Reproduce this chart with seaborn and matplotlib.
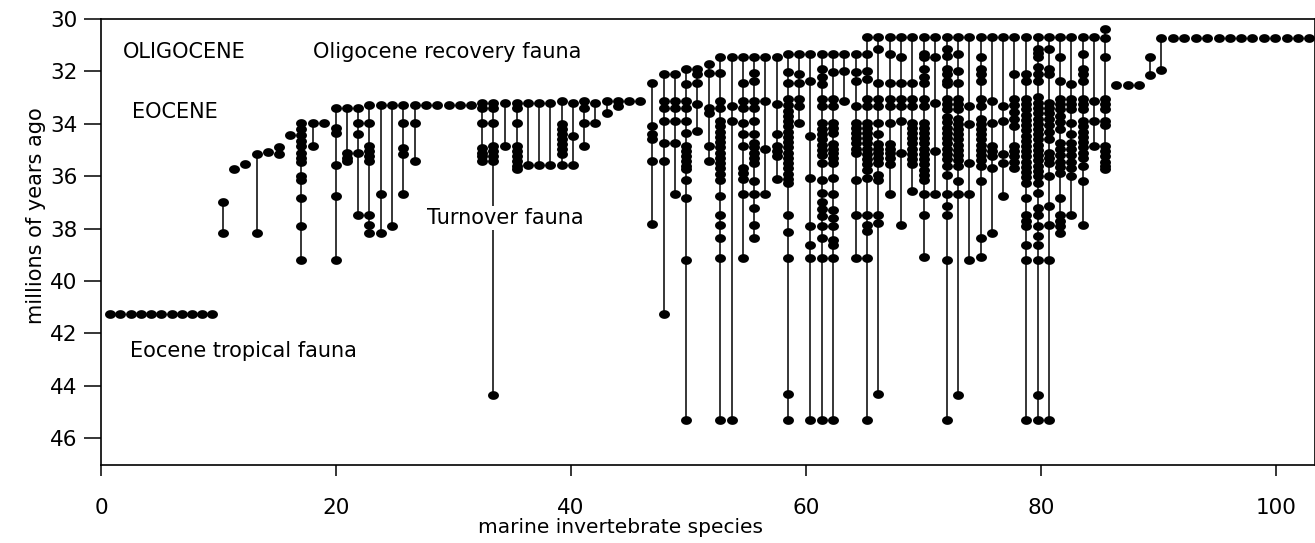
import numpy as np
import pandas as pd
import matplotlib
matplotlib.use("Agg")
import matplotlib.pyplot as plt
from matplotlib.markers import MarkerStyle
import seaborn as sns

# ---------------- data ----------------
tropical_x = [0.77, 1.64, 2.53, 3.38, 4.26, 5.13, 6.02, 6.87, 7.72, 8.60, 9.47]
tropical_ages = [[41.25]] * 11

turnover_x = [10.41, 11.32, 12.26, 13.30, 14.21, 15.15, 16.11, 17.05, 18.02, 19.00,
              19.97, 20.91, 21.90, 22.83, 23.80, 24.77, 25.73, 26.70, 27.66, 28.62,
              29.59, 30.55, 31.51, 32.45, 33.39, 34.36, 35.38, 36.31, 37.25, 38.19,
              39.19, 40.14, 41.11, 42.04, 43.04, 43.97, 44.94, 45.87, 46.92, 47.91,
              48.85, 49.79, 50.75, 51.72, 52.68, 53.68, 54.61, 55.57, 56.54, 57.49,
              58.44, 59.40, 60.34, 61.34, 62.32, 63.26, 64.23, 65.22, 66.15, 67.15,
              68.11, 69.05, 70.02, 70.98, 71.97, 72.94, 73.90, 74.87, 75.80, 76.79,
              77.73, 78.72, 79.69, 80.66, 81.62, 82.58, 83.55, 84.51, 85.45]
turnover_ages = [
    [37.0, 38.17],
    [35.72],
    [35.53],
    [35.15, 38.17],
    [35.06],
    [34.88, 35.15],
    [34.42],
    [33.96, 34.2, 34.44, 34.65, 34.85, 35.13, 35.3, 35.47, 36.0, 36.16, 36.83, 37.89, 39.2],
    [33.96, 34.85],
    [33.96],
    [33.4, 34.15, 34.37, 35.56, 36.74, 39.2],
    [33.38, 35.11, 35.3, 35.43],
    [33.38, 33.96, 34.41, 35.13, 37.47],
    [33.3, 33.96, 34.85, 35.05, 35.24, 35.43, 37.47, 37.85, 38.17],
    [33.3, 36.7, 38.17],
    [33.3, 37.92],
    [33.3, 33.96, 34.92, 35.17, 36.7],
    [33.3, 33.96, 35.43],
    [33.3],
    [33.3],
    [33.3],
    [33.3],
    [33.3],
    [33.19, 33.38, 33.96, 34.92, 35.1, 35.25, 35.43],
    [33.19, 33.38, 33.96, 34.85, 35.05, 35.24, 35.43, 44.35],
    [33.19, 34.85],
    [33.19, 33.38, 33.96, 34.85, 35.05, 35.24, 35.43, 35.6, 35.72],
    [33.19, 35.56],
    [33.19, 35.56],
    [33.19, 35.56],
    [33.13, 34.02, 34.21, 34.41, 34.6, 34.79, 34.98, 35.17, 35.56],
    [33.19, 34.47, 35.56],
    [33.13, 33.38, 33.96, 34.85],
    [33.19, 33.96],
    [33.13, 33.58],
    [33.13, 33.32],
    [33.13],
    [33.13],
    [32.43, 34.09, 34.41, 34.6, 35.43, 37.82],
    [32.11, 33.13, 33.38, 33.9, 34.72, 35.43, 41.28],
    [32.11, 33.13, 33.38, 33.9, 34.72, 36.7],
    [31.92, 32.49, 33.13, 33.38, 33.9, 34.34, 34.85, 35.05, 35.24, 35.43, 35.6, 35.72, 36.13, 36.83, 39.2, 45.33],
    [31.92, 32.11, 32.43, 33.26, 34.28],
    [31.72, 32.05, 33.4, 33.58, 34.85, 35.43],
    [31.44, 32.05, 33.13, 33.38, 33.9, 34.1, 34.3, 34.5, 34.7, 34.9, 35.1, 35.3, 35.5, 35.7, 35.9, 36.13, 36.77, 37.47, 37.85, 38.36, 39.13, 45.33],
    [31.44, 33.32, 33.9, 45.33],
    [31.44, 32.43, 33.13, 33.4, 33.96, 34.41, 34.85, 35.68, 35.87, 36.1, 36.7, 39.13],
    [31.44, 32.05, 32.37, 33.13, 33.38, 33.9, 34.41, 34.72, 34.9, 35.1, 35.3, 35.5, 36.2, 36.7, 37.2, 37.85, 38.36],
    [31.44, 33.15, 34.98, 36.7],
    [31.44, 33.26, 34.41, 34.85, 35.05, 35.24, 36.1],
    [31.34, 32.04, 32.43, 33.07, 33.3, 33.5, 33.7, 33.9, 34.1, 34.3, 34.5, 34.7, 34.9, 35.1, 35.3, 35.5, 35.7, 35.9, 36.1, 36.25, 37.47, 38.15, 39.13, 44.33, 45.3],
    [31.34, 32.11, 32.45, 33.07, 33.32, 33.96],
    [31.34, 32.36, 34.47, 36.07, 37.89, 38.62, 39.13, 45.3],
    [31.34, 31.92, 32.2, 32.49, 33.07, 33.32, 33.96, 34.2, 34.4, 34.6, 34.8, 35.0, 35.2, 35.49, 36.13, 36.64, 37.0, 37.25, 37.53, 37.89, 38.36, 39.13, 45.3],
    [31.34, 32.04, 33.07, 33.32, 33.96, 34.15, 34.34, 34.79, 34.95, 35.11, 35.3, 35.49, 36.07, 36.7, 37.28, 37.6, 37.89, 38.43, 38.62, 39.13, 45.3],
    [31.34, 31.98, 33.13],
    [31.34, 32.04, 32.36, 33.32, 33.96, 34.15, 34.35, 34.55, 34.75, 34.95, 35.11, 36.13, 37.47, 39.13],
    [30.7, 31.34, 31.98, 32.3, 33.07, 33.32, 33.96, 34.15, 34.35, 34.55, 34.75, 34.95, 35.15, 35.35, 35.55, 35.75, 36.07, 37.47, 37.85, 38.1, 39.13, 45.3],
    [30.7, 31.15, 32.43, 33.07, 33.32, 33.96, 34.41, 34.79, 34.95, 35.11, 35.3, 35.49, 35.95, 36.13, 37.47, 37.8, 44.33],
    [30.7, 31.34, 32.43, 33.07, 33.32, 33.96, 34.79, 34.95, 35.11, 35.3, 35.55, 36.7],
    [30.7, 31.47, 32.43, 33.07, 33.32, 33.9, 35.11, 37.85],
    [30.7, 32.43, 33.07, 33.32, 33.96, 34.15, 34.35, 34.55, 34.75, 34.95, 35.15, 35.35, 35.55, 36.58],
    [30.7, 31.34, 31.47, 31.92, 32.2, 32.43, 33.07, 33.32, 33.96, 34.15, 34.35, 34.55, 34.75, 34.95, 35.15, 35.35, 35.55, 35.75, 35.95, 36.13, 36.7, 37.47, 39.07],
    [30.7, 31.47, 33.19, 35.04, 36.7],
    [30.7, 31.15, 31.4, 31.92, 32.11, 32.36, 32.49, 33.07, 33.25, 33.45, 33.76, 33.95, 34.15, 34.35, 34.55, 34.75, 34.95, 35.15, 35.35, 35.63, 35.94, 36.7, 37.15, 37.47, 39.2, 45.3],
    [30.7, 31.34, 31.98, 32.43, 33.07, 33.25, 33.45, 33.8, 34.0, 34.2, 34.4, 34.6, 34.8, 35.0, 35.2, 35.4, 35.63, 36.2, 36.7, 44.34],
    [30.7, 33.32, 34.02, 35.49, 36.7, 39.2],
    [30.7, 31.47, 31.92, 32.1, 32.36, 33.07, 33.32, 33.8, 34.0, 34.2, 34.4, 34.6, 34.8, 35.0, 35.2, 35.4, 35.63, 36.2, 38.36, 39.09],
    [30.7, 33.13, 33.96, 34.85, 35.05, 35.24, 35.68, 38.17],
    [30.7, 33.32, 33.9, 35.17, 35.49, 36.77],
    [30.7, 32.11, 33.07, 33.3, 33.55, 33.8, 34.09, 34.85, 35.05, 35.24, 35.45, 35.68],
    [30.7, 32.11, 32.36, 33.07, 33.25, 33.45, 33.65, 33.85, 34.05, 34.25, 34.45, 34.65, 34.85, 35.05, 35.25, 35.45, 35.65, 35.85, 36.05, 36.26, 36.83, 37.47, 37.7, 37.92, 38.62, 39.2, 45.3],
    [30.7, 31.15, 31.3, 31.47, 31.85, 32.1, 32.36, 32.98, 33.2, 33.4, 33.6, 33.8, 34.0, 34.2, 34.4, 34.6, 34.8, 35.0, 35.2, 35.4, 35.6, 35.8, 36.0, 36.26, 36.64, 37.22, 37.47, 37.92, 38.3, 38.62, 39.2, 44.34, 45.3],
    [30.7, 31.15, 31.92, 32.11, 33.19, 33.4, 33.58, 33.83, 34.05, 34.3, 34.6, 35.1, 35.3, 35.49, 36.0, 37.15, 37.85, 39.2, 45.3],
    [30.7, 31.47, 32.36, 33.07, 33.25, 33.45, 33.7, 33.95, 34.2, 34.72, 34.95, 35.2, 35.45, 35.65, 35.87, 36.83, 37.47, 37.7, 37.92, 38.17],
    [30.7, 32.49, 33.07, 33.25, 33.45, 33.96, 34.41, 34.72, 34.95, 35.2, 35.45, 35.7, 36.0, 37.47],
    [30.7, 31.34, 31.92, 32.11, 32.36, 33.07, 33.25, 33.45, 33.9, 34.1, 34.3, 34.5, 34.7, 34.9, 35.1, 35.3, 35.6, 36.2, 37.85],
    [30.7, 33.13, 33.9, 34.85],
    [30.38, 30.74, 31.47, 33.07, 33.25, 33.45, 33.9, 34.05, 34.85, 35.05, 35.24, 35.45, 35.6, 35.72],
]

recovery_x = [86.38, 87.38, 88.34, 89.28, 90.21, 91.21, 92.19, 93.17, 94.15,
              95.09, 96.09, 97.02, 97.98, 98.92, 99.89, 100.91, 101.87, 102.81]
recovery_ages = [[32.53], [32.53], [32.53], [31.47, 32.13], [30.73, 31.94]] + [[30.73]] * 13

x_ticks = [0, 20, 40, 60, 80, 100]
y_ticks = [30, 32, 34, 36, 38, 40, 42, 44, 46]

assert len(turnover_x) == len(turnover_ages)
assert len(recovery_x) == len(recovery_ages)

all_x = tropical_x + turnover_x + recovery_x
all_ages = tropical_ages + turnover_ages + recovery_ages
rows = []
for sid, (xv, ages) in enumerate(zip(all_x, all_ages)):
    for a in sorted(ages):
        rows.append((sid, xv, a))
df = pd.DataFrame(rows, columns=["species", "x", "age"])

# ---------------- plot ----------------
sns.set_style("ticks")
plt.rcParams["font.family"] = ["DejaVu Sans"]
plt.rcParams["text.color"] = "black"
plt.rcParams["axes.labelcolor"] = "black"
plt.rcParams["xtick.color"] = "black"
plt.rcParams["ytick.color"] = "black"

W, H = 1315, 543
fig = plt.figure(figsize=(W / 100, H / 100), dpi=100)
ax = fig.add_axes([101 / W, 1 - 465 / H, (W - 101) / W, (465 - 19) / H])

sns.lineplot(data=df, x="x", y="age", units="species", estimator=None, sort=False,
             color="black", lw=1.1, ax=ax, legend=False, zorder=2)

theta = np.linspace(0, 2 * np.pi, 48)
ellipse = MarkerStyle(np.column_stack([np.cos(theta), 0.8 * np.sin(theta)]))
sns.scatterplot(data=df, x="x", y="age", marker=ellipse, s=62, color="black",
                linewidth=0, ax=ax, legend=False, zorder=3)

ax.set_xlim(0, 103.3)
ax.set_ylim(47.03, 30)
ax.set_xticks(x_ticks)
ax.set_yticks(y_ticks)

for sp in ax.spines.values():
    sp.set_visible(True)
    sp.set_linewidth(1.2)
    sp.set_color("black")

ax.tick_params(axis="y", direction="out", length=12, width=1.1, pad=5,
               labelsize=15.5, colors="black")
ax.tick_params(axis="x", direction="out", length=8, width=1.1, pad=16,
               labelsize=15.5, colors="black")

ax.set_ylabel("millions of years ago", fontsize=15, color="black")
ax.yaxis.set_label_coords(-0.045, 0.56)
ax.set_xlabel("marine invertebrate species", fontsize=14.5, color="black")
ax.xaxis.set_label_coords((620 - 101) / (W - 101), -0.118)

txt = dict(fontsize=15, color="black", va="center", ha="left")
ax.text(1.87, 31.26, "OLIGOCENE", **txt)
ax.text(18.04, 31.26, "Oligocene recovery fauna", **txt)
ax.text(2.61, 33.57, "EOCENE", **txt)
ax.text(27.72, 37.59, "Turnover fauna", zorder=4,
        bbox=dict(facecolor="white", edgecolor="none", pad=1.5), **txt)
ax.text(2.47, 42.68, "Eocene tropical fauna", **txt)

fig.savefig("out.png", dpi=100, facecolor="white")
